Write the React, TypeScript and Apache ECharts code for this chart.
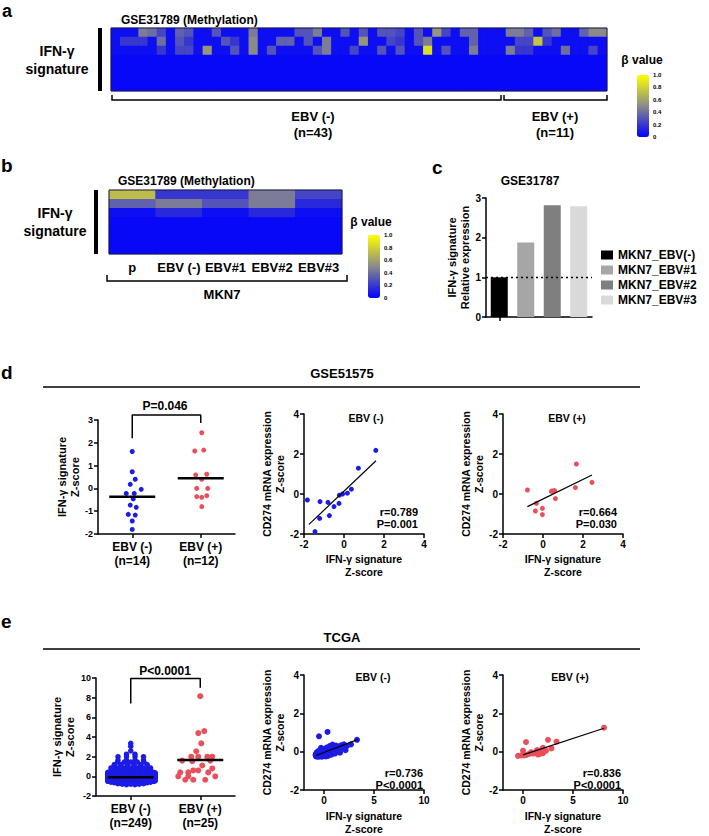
import React, { useEffect, useRef } from "react";
import * as echarts from "echarts";

const FONT = "Arial, 'Liberation Sans', Helvetica, sans-serif";
const W = 709;
const H = 836;

// ---------------- panel a : methylation heatmap (54 samples x 7 CpG rows) ----------------
const heatASamples = Array.from({ length: 54 }, (_, i) => (i < 43 ? `N${i + 1}` : `P${i - 42}`));
const heatAGenes = ["r1", "r2", "r3", "r4", "r5", "r6", "r7"];
const heatARow1 = [
  0.05, 0.05, 0.05, 0.45, 0.4, 0.25, 0.05, 0.35, 0.3, 0.05,
  0.05, 0.3, 0.05, 0.05, 0.05, 0.45, 0.05, 0.05, 0.05, 0.05,
  0.3, 0.3, 0.45, 0.05, 0.05, 0.3, 0.05, 0.3, 0.05, 0.3,
  0.3, 0.25, 0.05, 0.3, 0.05, 0.55, 0.25, 0.05, 0.35, 0.35,
  0.05, 0.05, 0.05, 0.45, 0.45, 0.35, 0.05, 0.3, 0.4, 0.05,
  0.05, 0.35, 0.5, 0.5,
];
const heatARow2 = [
  0.05, 0.2, 0.2, 0.2, 0.05, 0.4, 0.05, 0.3, 0.2, 0.05,
  0.05, 0.05, 0.3, 0.2, 0.05, 0.5, 0.05, 0.05, 0.35, 0.35,
  0.05, 0.3, 0.05, 0.45, 0.05, 0.05, 0.05, 0.55, 0.05, 0.05,
  0.25, 0.2, 0.05, 0.3, 0.45, 0.05, 0.05, 0.05, 0.05, 0.35,
  0.05, 0.05, 0.05, 0.05, 0.25, 0.25, 0.75, 0.2, 0.05, 0.05,
  0.05, 0.05, 0.05, 0.05,
];
const heatARow3 = [
  0.05, 0.05, 0.05, 0.05, 0.05, 0.2, 0.05, 0.25, 0.25, 0.05,
  0.55, 0.05, 0.05, 0.3, 0.05, 0.5, 0.05, 0.3, 0.05, 0.05,
  0.05, 0.05, 0.3, 0.45, 0.05, 0.05, 0.25, 0.05, 0.05, 0.3,
  0.05, 0.3, 0.05, 0.05, 0.85, 0.05, 0.3, 0.05, 0.05, 0.45,
  0.05, 0.05, 0.05, 0.45, 0.2, 0.2, 0.05, 0.05, 0.05, 0.4,
  0.05, 0.05, 0.25, 0.05,
];
const heatALowRow = [
  0.03, 0.03, 0.03, 0.03, 0.03, 0.03, 0.03, 0.03, 0.03, 0.03,
  0.03, 0.03, 0.03, 0.03, 0.03, 0.03, 0.03, 0.03, 0.03, 0.03,
  0.03, 0.03, 0.03, 0.03, 0.03, 0.03, 0.03, 0.03, 0.03, 0.03,
  0.03, 0.03, 0.03, 0.03, 0.03, 0.03, 0.03, 0.03, 0.03, 0.03,
  0.03, 0.03, 0.03, 0.03, 0.03, 0.03, 0.03, 0.03, 0.03, 0.03,
  0.03, 0.03, 0.03, 0.03,
];
const heatARows = [heatARow1, heatARow2, heatARow3, heatALowRow, heatALowRow, heatALowRow, heatALowRow];

// ---------------- panel b : MKN7 heatmap ----------------
const heatBSamples = ["p", "EBV (-)", "EBV#1", "EBV#2", "EBV#3"];
const heatBGenes = ["r1", "r2", "r3", "r4", "r5", "r6", "r7"];
const heatBRows = [
  [0.72, 0.2, 0.2, 0.45, 0.25],
  [0.35, 0.45, 0.3, 0.45, 0.15],
  [0.05, 0.15, 0.05, 0.15, 0.05],
  [0.03, 0.03, 0.03, 0.03, 0.03],
  [0.03, 0.03, 0.03, 0.03, 0.03],
  [0.03, 0.03, 0.03, 0.03, 0.03],
  [0.03, 0.03, 0.03, 0.03, 0.03],
];
const colorbarLabels = ["1.0", "0.8", "0.6", "0.4", "0.2", "0"];

// ---------------- panel c : bars ----------------
const barCats = ["MKN7_EBV(-)", "MKN7_EBV#1", "MKN7_EBV#2", "MKN7_EBV#3"];
const barValues = [1.0, 1.88, 2.82, 2.79];
const barColors = ["#000000", "#a6a6a6", "#7f7f7f", "#d9d9d9"];

// ---------------- panel d : GSE51575 ----------------
const dotDCats = ["EBV (-)\n(n=14)", "EBV (+)\n(n=12)"];
const dNegValues = [1.62, 0.73, 0.4, 0.18, -0.04, -0.22, -0.22, -0.46, -0.73, -0.83, -1.17, -1.14, -1.43, -1.8];
const dNegJitterPx = [0, 0, 3, -2, 9, -6, 2, 1, -2, 4, 3, -4, 0, 0];
const dPosValues = [2.44, 1.64, 1.68, 0.59, 0.62, 0.4, 0.0, 0.0, -0.36, -0.39, -0.32, -0.8];
const dPosJitterPx = [1, -6, 3, -5, 6, 1, -4, 7, -4, 1, 6, 1];
const dMeans = [-0.37, 0.45];
const dBracket = [2.2, 3.22, 2.87]; // left leg end, top, right leg end

const dNegScatter = [
  [-1.83, -0.3], [-1.2, -0.38], [-0.8, -0.42], [-1.22, -1.22], [-1.45, -1.88], [-0.73, -1.08], [-0.5, -0.63],
  [-0.25, -0.47], [-0.23, -0.06], [-0.07, 0.0], [0.17, 0.04], [0.37, 0.24], [0.72, 1.29], [1.59, 2.18],
];
const dNegFit = [[-1.75, -1.52], [1.6, 1.66]];
const dPosScatter = [
  [-0.78, 0.2], [-0.33, -0.47], [-0.38, -0.85], [-0.03, -0.72], [-0.03, -1.03], [0.42, 0.13],
  [0.47, 0.15], [0.58, 0.17], [0.62, -0.23], [1.62, 0.32], [1.67, 1.5], [2.45, 0.58],
];
const dPosFit = [[-0.78, -0.63], [2.45, 0.95]];

// ---------------- panel e : TCGA ----------------
const dotECats = ["EBV (-)\n(n=249)", "EBV (+)\n(n=25)"];
// beeswarm rows of the EBV(-) group: [value, number of samples]  (249 in total)
const eNegRows = [
  [3.35, 1], [3.05, 1], [2.6, 1], [2.25, 2], [2.0, 4], [1.65, 4], [1.45, 5], [1.2, 6], [1.0, 6], [0.85, 7],
  [0.7, 6], [0.6, 7], [0.5, 6], [0.45, 7],
  [0.4, 8], [0.35, 8], [0.3, 8], [0.25, 8], [0.2, 8], [0.15, 8], [0.1, 8], [0.05, 8], [0.0, 8], [-0.05, 8],
  [-0.1, 8], [-0.15, 8], [-0.2, 8], [-0.25, 8], [-0.3, 8], [-0.35, 8], [-0.4, 8], [-0.45, 8], [-0.5, 8],
  [-0.55, 7], [-0.6, 7], [-0.65, 6], [-0.7, 5], [-0.75, 4], [-0.8, 3], [-0.85, 2],
];
const ePosValues = [8.15, 4.6, 4.4, 3.35, 2.55, 2.0, 2.0, 2.0, 2.0, 1.6, 1.55, 1.6, 1.1, 0.8, 0.6, 0.6, 0.4, 0.4, 0.4, 0.0, 0.0, 0.0, -0.35, -0.35, -0.35];
const ePosJitterPx = [0, 4, -2, 1, -4, -9, -2, 7, 12, -18, -8, 10, 2, 12, -7, -2, -20, -12, 8, -22, -12, 15, -15, -7, 5];
const eMeans = [-0.1, 1.65];
const eBracket = [7.4, 9.95, 9.0];

const eNegScatter = [
  [-0.8, -0.25], [-0.6, -0.27], [-0.4, -0.25], [-0.2, -0.26], [0, -0.24], [0.2, -0.25], [0.4, -0.22],
  [-0.85, -0.18], [-0.65, -0.17], [-0.45, -0.19], [-0.25, -0.18], [-0.05, -0.17], [0.15, -0.18], [0.35, -0.16], [0.55, -0.17], [0.75, -0.15],
  [-0.8, -0.1], [-0.6, -0.1], [-0.4, -0.11], [-0.2, -0.09], [0, -0.1], [0.2, -0.08], [0.4, -0.1], [0.6, -0.07], [0.8, -0.09], [1.0, -0.06],
  [-0.7, -0.02], [-0.5, -0.03], [-0.3, -0.01], [-0.1, -0.02], [0.1, 0], [0.3, -0.02], [0.5, 0.01], [0.7, -0.01], [0.9, 0.02], [1.1, 0],
  [-0.5, 0.06], [-0.3, 0.05], [-0.1, 0.07], [0.1, 0.06], [0.3, 0.08], [0.5, 0.06], [0.7, 0.09], [0.9, 0.07], [1.2, 0.1],
  [-0.2, 0.14], [0, 0.15], [0.2, 0.13], [0.4, 0.16], [0.6, 0.14], [0.8, 0.17], [1.0, 0.15],
  [0.3, 0.22], [0.5, 0.24], [0.7, 0.21], [1.0, 0.25],
  [-0.5, 0.8], [0.35, 1.03], [0.75, 0.3], [0.85, 0.37], [1.2, 0.32], [1.45, 0.25], [1.7, 0.33], [2.0, 0.38],
  [2.3, 0.3], [2.15, 0.08], [2.7, 0.38], [3.3, 0.62], [1.6, -0.05], [1.3, 0.0], [2.0, 0.15], [1.0, 0.3],
  [0.6, 0.3], [-0.3, 0.2], [1.5, 0.1], [1.1, -0.1],
];
const eNegFit = [[-0.8, -0.2], [3.35, 0.63]];
const ePosScatter = [
  [-0.5, -0.22], [-0.2, -0.2], [0.1, -0.2], [0.35, -0.17], [0.0, 0.05], [0.3, 0.5], [0.6, -0.12], [0.9, -0.05],
  [1.2, -0.08], [1.5, -0.15], [1.55, -0.05], [1.8, 0.0], [1.9, 0.12], [2.0, 0.2], [2.0, -0.08], [2.5, 0.62],
  [2.85, 0.17], [3.35, 0.52], [1.4, 0.08], [2.3, 0.05], [1.0, -0.1], [0.0, -0.15], [1.7, -0.12], [0.8, -0.03], [8.1, 1.25],
];
const ePosFit = [[0.0, -0.17], [8.1, 1.22]];

// ---------------- layout ----------------
const G = {
  heatA: { left: 111, top: 28, width: 496, height: 63 },
  heatB: { left: 109, top: 190, width: 233, height: 64 },
  barC: { left: 486, top: 198, width: 106, height: 119 },
  dotD: { left: 98, top: 420, width: 137, height: 114 },
  scD1: { left: 304, top: 414, width: 120, height: 120 },
  scD2: { left: 503, top: 414, width: 120, height: 120 },
  dotE: { left: 96, top: 678, width: 139, height: 118 },
  scE1: { left: 304, top: 675, width: 120, height: 120 },
  scE2: { left: 503, top: 675, width: 120, height: 120 },
};
const BLUE = "#1c1ce6";
const RED = "#ea4f5a";
const MEAN_HALF_PX = 23;

const lbl = (size: number, extra: any = {}) => ({
  color: "#000",
  fontWeight: "bold",
  fontSize: size,
  fontFamily: FONT,
  ...extra,
});
const axLine = { show: true, onZero: false, lineStyle: { color: "#000", width: 1.5 } };
const axTick = { show: true, inside: false, length: 4, lineStyle: { color: "#000", width: 1.5 } };

function valueAxis(gridIndex: number, min: number, max: number, interval: number | null, name: string, nameGap: number, labelSize: number, extra: any = {}) {
  const ax: any = {
    gridIndex,
    type: "value",
    min,
    max,
    axisLine: axLine,
    axisTick: { ...axTick },
    axisLabel: { ...lbl(labelSize), margin: 5 },
    splitLine: { show: false },
    name,
    nameLocation: "middle",
    nameGap,
    nameTextStyle: lbl(10.5, { lineHeight: 13 }),
    ...extra,
  };
  if (interval !== null) ax.interval = interval;
  return ax;
}

function heatData(rows: number[][]) {
  const out: number[][] = [];
  rows.forEach((row, r) => row.forEach((v, c) => out.push([c, r, v])));
  return out;
}

// beeswarm layout: spread each row's samples horizontally around the category centre
function swarm(rows: number[][], center: number, unitPerPx: number) {
  const out: number[][] = [];
  rows.forEach(([v, n], ri) => {
    const spacing = n <= 4 ? 8.5 : Math.min(6.6, 46 / (n - 1));
    const nudge = n >= 8 && ri % 2 === 1 ? 1.5 : 0;
    for (let k = 0; k < n; k++) {
      out.push([center + ((k - (n - 1) / 2) * spacing + nudge) * unitPerPx, v]);
    }
  });
  return out;
}

function txt(x: number, y: number, text: string, font: string, align = "left", vAlign = "middle", extra: any = {}) {
  return {
    type: "text",
    x,
    y,
    z: 100,
    silent: true,
    style: { text, font, fill: "#000", align, verticalAlign: vAlign, textAlign: align, textVerticalAlign: vAlign, ...extra },
  };
}
function poly(points: number[][], lw = 1.5) {
  return { type: "polyline", z: 100, silent: true, shape: { points }, style: { stroke: "#000", lineWidth: lw, fill: null } };
}

function buildOption() {
  const uD = 2 / G.dotD.width;
  const uE = 2 / G.dotE.width;
  const heatColors = ["#0000ff", "#8a8a8a", "#ffff00"];

  const grid = [G.heatA, G.heatB, G.barC, G.dotD, G.scD1, G.scD2, G.dotE, G.scE1, G.scE2].map((g, i) => ({
    ...g,
    containLabel: false,
    show: i < 2,
    backgroundColor: i < 2 ? "#0000ff" : "transparent",
    borderWidth: 0,
  }));

  const xAxis: any[] = [
    { gridIndex: 0, type: "category", data: heatASamples, show: false },
    {
      gridIndex: 1, type: "category", data: heatBSamples,
      axisLine: { show: false }, axisTick: { show: false },
      axisLabel: { ...lbl(13), margin: 7, interval: 0 },
    },
    {
      gridIndex: 2, type: "category", data: barCats, axisLine: axLine,
      axisTick: { ...axTick, alignWithLabel: true }, axisLabel: { show: false },
    },
    {
      gridIndex: 3, type: "category", data: dotDCats, axisLine: axLine,
      axisTick: { ...axTick, alignWithLabel: true }, axisLabel: { ...lbl(12, { lineHeight: 14 }), margin: 6, interval: 0 },
    },
    { gridIndex: 3, type: "value", min: 0, max: 2, show: false, position: "top" },
    valueAxis(4, -2, 4, 2, "IFN-γ signature\nZ-score", 18, 10),
    valueAxis(5, -2, 4, 2, "IFN-γ signature\nZ-score", 18, 10),
    {
      gridIndex: 6, type: "category", data: dotECats, axisLine: axLine,
      axisTick: { ...axTick, alignWithLabel: true }, axisLabel: { ...lbl(12, { lineHeight: 14 }), margin: 6, interval: 0 },
    },
    { gridIndex: 6, type: "value", min: 0, max: 2, show: false, position: "top" },
    valueAxis(7, -2, 10, null, "IFN-γ signature\nZ-score", 19, 10, {
      axisLabel: { ...lbl(10), margin: 5, customValues: [0, 5, 10] },
      axisTick: { ...axTick, customValues: [0, 5, 10] },
    }),
    valueAxis(8, -2, 10, null, "IFN-γ signature\nZ-score", 19, 10, {
      axisLabel: { ...lbl(10), margin: 5, customValues: [0, 5, 10] },
      axisTick: { ...axTick, customValues: [0, 5, 10] },
    }),
  ];

  const yAxis: any[] = [
    { gridIndex: 0, type: "category", data: heatAGenes, inverse: true, show: false },
    { gridIndex: 1, type: "category", data: heatBGenes, inverse: true, show: false },
    valueAxis(2, 0, 3, 1, "IFN-γ signature\nRelative expression", 14, 10, { nameTextStyle: lbl(11, { lineHeight: 13 }) }),
    valueAxis(3, -2, 3, 1, "IFN-γ signature\nZ-score", 15, 9, { nameTextStyle: lbl(11, { lineHeight: 13 }) }),
    valueAxis(4, -2, 4, 2, "CD274 mRNA expression\nZ-score", 15, 10),
    valueAxis(5, -2, 4, 2, "CD274 mRNA expression\nZ-score", 15, 10),
    valueAxis(6, -2, 10, 2, "IFN-γ signature\nZ-score", 20, 9, { nameTextStyle: lbl(11, { lineHeight: 13 }) }),
    valueAxis(7, -2, 4, 2, "CD274 mRNA expression\nZ-score", 15, 10),
    valueAxis(8, -2, 4, 2, "CD274 mRNA expression\nZ-score", 15, 10),
  ];

  const lineSeries = (xi: number, yi: number, data: number[][], width: number, clip = true) => ({
    type: "line", xAxisIndex: xi, yAxisIndex: yi, data, symbol: "none", silent: true, clip,
    lineStyle: { color: "#000", width }, z: 5,
  });
  const scatterSeries = (name: string, xi: number, yi: number, data: number[][], color: string, size: number) => ({
    type: "scatter", name, xAxisIndex: xi, yAxisIndex: yi, data, symbol: "circle", symbolSize: size, silent: true,
    itemStyle: { color, opacity: 1 },
  });

  const series: any[] = [
    {
      type: "heatmap", xAxisIndex: 0, yAxisIndex: 0, data: heatData(heatARows), silent: true,
      itemStyle: { borderWidth: 0 }, emphasis: { disabled: true },
    },
    {
      type: "heatmap", xAxisIndex: 1, yAxisIndex: 1, data: heatData(heatBRows), silent: true,
      itemStyle: { borderWidth: 0 }, emphasis: { disabled: true },
    },
    ...barCats.map((name, i) => ({
      type: "bar", name, xAxisIndex: 2, yAxisIndex: 2, barWidth: 17, barGap: "-100%", silent: true,
      data: barCats.map((_, j) => (j === i ? barValues[i] : "-")),
      itemStyle: { color: barColors[i] },
      markLine: i === 0 ? {
        silent: true, symbol: "none", label: { show: false },
        lineStyle: { color: "#000", width: 1.3, type: [2, 3] }, data: [{ yAxis: 1 }],
      } : undefined,
    })),
    // panel d
    scatterSeries("dNeg", 4, 3, dNegValues.map((v, i) => [0.5 + dNegJitterPx[i] * uD, v]), BLUE, 5),
    scatterSeries("dPos", 4, 3, dPosValues.map((v, i) => [1.5 + dPosJitterPx[i] * uD, v]), RED, 5),
    lineSeries(4, 3, [[0.5 - MEAN_HALF_PX * uD, dMeans[0]], [0.5 + MEAN_HALF_PX * uD, dMeans[0]]], 2.5),
    lineSeries(4, 3, [[1.5 - MEAN_HALF_PX * uD, dMeans[1]], [1.5 + MEAN_HALF_PX * uD, dMeans[1]]], 2.5),
    lineSeries(4, 3, [[0.5, dBracket[0]], [0.5, dBracket[1]], [1.5, dBracket[1]], [1.5, dBracket[2]]], 1.5, false),
    scatterSeries("dNegSc", 5, 4, dNegScatter, BLUE, 5),
    lineSeries(5, 4, dNegFit, 1.2),
    scatterSeries("dPosSc", 6, 5, dPosScatter, RED, 5),
    lineSeries(6, 5, dPosFit, 1.2),
    // panel e
    scatterSeries("eNeg", 8, 6, swarm(eNegRows, 0.5, uE), BLUE, 5.5),
    scatterSeries("ePos", 8, 6, ePosValues.map((v, i) => [1.5 + ePosJitterPx[i] * uE, v]), RED, 6),
    lineSeries(8, 6, [[0.5 - MEAN_HALF_PX * uE, eMeans[0]], [0.5 + MEAN_HALF_PX * uE, eMeans[0]]], 2.5),
    lineSeries(8, 6, [[1.5 - MEAN_HALF_PX * uE, eMeans[1]], [1.5 + MEAN_HALF_PX * uE, eMeans[1]]], 2.5),
    lineSeries(8, 6, [[0.5, eBracket[0]], [0.5, eBracket[1]], [1.5, eBracket[1]], [1.5, eBracket[2]]], 1.5, false),
    scatterSeries("eNegSc", 9, 7, eNegScatter, BLUE, 6),
    lineSeries(9, 7, eNegFit, 1.2),
    scatterSeries("ePosSc", 10, 8, ePosScatter, RED, 6),
    lineSeries(10, 8, ePosFit, 1.2),
  ];

  const B = (s: number) => `bold ${s}px ${FONT}`;
  const cbA = { x: 637, y: 75, h: 62 };
  const cbB = { x: 368, y: 235, h: 63 };

  const graphic: any[] = [
    // panel letters
    txt(2, 11, "a", B(18)),
    txt(1, 165, "b", B(19)),
    txt(432, 167, "c", B(19)),
    txt(1, 372, "d", B(19)),
    txt(1, 621, "e", B(19)),
    // panel a
    txt(121, 20, "GSE31789 (Methylation)", B(12)),
    { type: "rect", z: 100, silent: true, shape: { x: 98, y: 28, width: 4, height: 63 }, style: { fill: "#000" } },
    txt(57, 60, "IFN-γ\nsignature", B(14), "center", "middle", { lineHeight: 18 }),
    { type: "rect", z: 100, silent: true, shape: { x: G.heatA.left, y: G.heatA.top, width: G.heatA.width, height: G.heatA.height }, style: { fill: "transparent", stroke: "#1a1a40", lineWidth: 1 } },
    poly([[112, 95], [112, 100], [501, 100], [501, 95]]),
    poly([[504, 95], [504, 100], [607, 100], [607, 95]]),
    txt(313, 124, "EBV (-)\n(n=43)", B(13), "center", "middle", { lineHeight: 16 }),
    txt(555, 124, "EBV (+)\n(n=11)", B(13), "center", "middle", { lineHeight: 16 }),
    txt(642, 60, "β value", B(12), "center"),
    ...colorbarLabels.map((t, i) => txt(cbA.x + 16, cbA.y + (i * cbA.h) / 5, t, B(6))),
    // panel b
    txt(118, 181, "GSE31789 (Methylation)", B(12)),
    { type: "rect", z: 100, silent: true, shape: { x: 94, y: 190, width: 4, height: 64 }, style: { fill: "#000" } },
    txt(55, 222, "IFN-γ\nsignature", B(14), "center", "middle", { lineHeight: 18 }),
    { type: "rect", z: 100, silent: true, shape: { x: G.heatB.left, y: G.heatB.top, width: G.heatB.width, height: G.heatB.height }, style: { fill: "transparent", stroke: "#1a1a40", lineWidth: 1 } },
    poly([[107, 275], [107, 281], [347, 281], [347, 275]]),
    txt(222, 294, "MKN7", B(13), "center"),
    txt(371, 222, "β value", B(12), "center"),
    ...colorbarLabels.map((t, i) => txt(cbB.x + 16, cbB.y + (i * cbB.h) / 5, t, B(6))),
    // panel c
    txt(530, 181, "GSE31787", B(12), "center"),
    // panel d
    txt(342, 373, "GSE51575", B(13), "center"),
    { type: "line", z: 100, silent: true, shape: { x1: 43, y1: 387, x2: 640, y2: 387 }, style: { stroke: "#000", lineWidth: 1.5 } },
    txt(165, 406, "P=0.046", B(12), "center"),
    txt(366, 418, "EBV (-)", B(10.5), "center"),
    txt(418, 518, "r=0.789\nP=0.001", B(11), "right", "middle", { lineHeight: 12 }),
    txt(567, 418, "EBV (+)", B(10.5), "center"),
    txt(617, 518, "r=0.664\nP=0.030", B(11), "right", "middle", { lineHeight: 12 }),
    // panel e
    txt(342, 637, "TCGA", B(13), "center"),
    { type: "line", z: 100, silent: true, shape: { x1: 43, y1: 649, x2: 640, y2: 649 }, style: { stroke: "#000", lineWidth: 1.5 } },
    txt(165, 671, "P<0.0001", B(12), "center"),
    txt(373, 677, "EBV (-)", B(10.5), "center"),
    txt(423, 779, "r=0.736\nP<0.0001", B(11), "right", "middle", { lineHeight: 12 }),
    txt(570, 677, "EBV (+)", B(10.5), "center"),
    txt(621, 779, "r=0.836\nP<0.0001", B(11), "right", "middle", { lineHeight: 12 }),
  ];

  return {
    animation: false,
    backgroundColor: "#ffffff",
    textStyle: { fontFamily: FONT },
    grid,
    xAxis,
    yAxis,
    series,
    visualMap: [
      {
        type: "continuous", seriesIndex: 0, min: 0, max: 1, show: true, calculable: false, hoverLink: false,
        left: cbA.x, top: cbA.y, itemWidth: 12, itemHeight: cbA.h, padding: 0, inRange: { color: heatColors },
      },
      {
        type: "continuous", seriesIndex: 1, min: 0, max: 1, show: true, calculable: false, hoverLink: false,
        left: cbB.x, top: cbB.y, itemWidth: 12, itemHeight: cbB.h, padding: 0, inRange: { color: heatColors },
      },
    ],
    legend: {
      data: barCats,
      orient: "vertical",
      left: 601,
      top: 249,
      itemWidth: 12,
      itemHeight: 9,
      itemGap: 3,
      icon: "rect",
      selectedMode: false,
      padding: 0,
      textStyle: lbl(12),
    },
    graphic,
  };
}

export default function App() {
  const ref = useRef<HTMLDivElement>(null);
  useEffect(() => {
    if (!ref.current) return;
    const chart = echarts.init(ref.current, undefined, { renderer: "svg", width: W, height: H });
    chart.setOption(buildOption() as any);
    return () => chart.dispose();
  }, []);
  return (
    <div
      ref={ref}
      style={{ position: "absolute", left: 0, top: 0, width: W, height: H, background: "#fff" }}
    />
  );
}
